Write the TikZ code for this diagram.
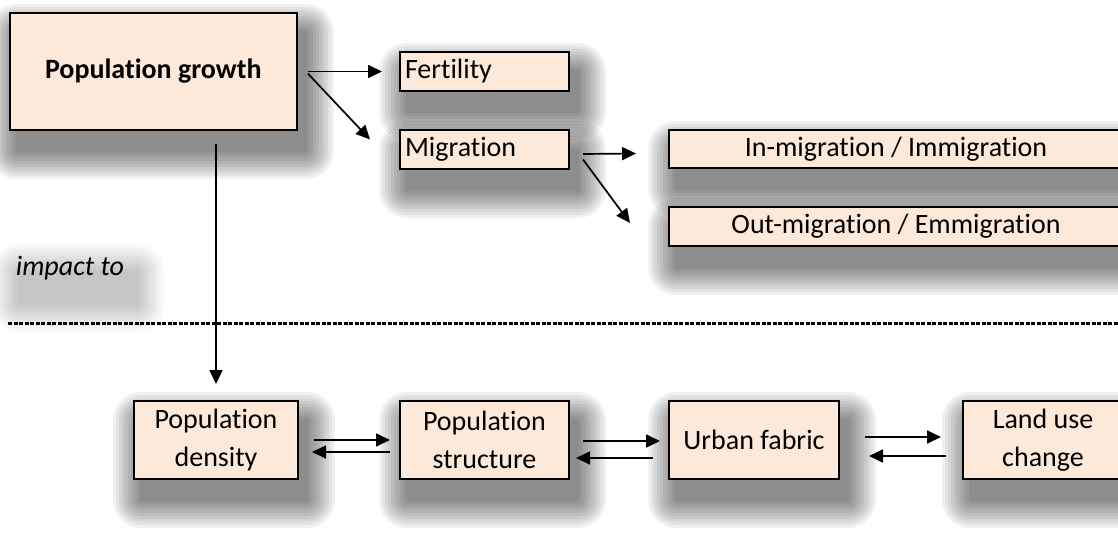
\documentclass[tikz,border=0pt]{standalone}
\usepackage{fontspec}
\setmainfont{Carlito}[Ligatures=NoCommon]
\usetikzlibrary{positioning}
\usetikzlibrary{arrows.meta}
\usetikzlibrary{backgrounds}
\definecolor{peach}{HTML}{FDE9D9}
\newcommand{\boxshadow}[2][0.055]% opacity, node
{\foreach \r in {28,25,...,1}
	\fill[black, opacity=#1, rounded corners=\r pt] ([shift={(8pt-\r pt,-20pt-\r pt)}]#2.south west) rectangle ([shift={(8pt+\r pt,-20pt+\r pt)}]#2.north east);
}
\tikzset{
	box/.style={draw=black, line width=2pt, fill=peach, inner sep=5pt, align=center},
	arr/.style={-{Triangle[length=14pt,width=13pt]}, line width=1.7pt},
	sepline/.style={line width=3pt, dash pattern=on 4pt off 1.5pt},
}
\begin{document}
\fontsize{28}{38}\selectfont
\begin{tikzpicture}[x=1pt,y=-1pt]
	\path[use as bounding box] (0,0) rectangle (1118,551);
	\node[box, minimum width=287pt, minimum height=117pt, font=\bfseries] (growth) at (153.3,71.5) {Population growth};
	\node[box, align=left, text width=159pt, minimum height=39pt] (fert) at (484.5,71.5) {Fertility};
	\node[box, align=left, text width=159pt, minimum height=39pt] (migr) at (484.5,149.5) {Migration};
	\node[box, minimum width=454pt, minimum height=38pt] (inmig) at (896,149) {In-migration / Immigration};
	\node[box, minimum width=454pt, minimum height=39pt] (outmig) at (896,226.5) {Out-migration / Emmigration};
	\node[font=\itshape, inner sep=4pt] (impact) at (70,268) {impact to};
	% separator
	\coordinate (sepL) at (8,323);
	\coordinate (sepR) at (1125,323);
	\draw[sepline] (sepL) -- (sepR);
	% bottom row
	\node[box, minimum width=164pt, minimum height=78pt] (dens) at (216,440) {Population\\density};
	\node[box, minimum width=169pt, minimum height=78pt] (struc) at (484.5,440) {Population\\structure};
	\node[box, minimum width=170pt, minimum height=78pt] (urban) at (754,440) {Urban fabric};
	\node[box, minimum width=160pt, minimum height=78pt] (land) at (1043,440) {Land use\\change};
	% shadows
	\begin{scope}[on background layer]
		\fill[white] (0,0) rectangle (1118,551);
		\boxshadow{growth}
		\boxshadow{fert}
		\boxshadow{migr}
		\boxshadow{inmig}
		\boxshadow{outmig}
		\boxshadow[0.022]{impact}
		\boxshadow{dens}
		\boxshadow{struc}
		\boxshadow{urban}
		\boxshadow{land}
	\end{scope}
	% arrows
	\draw[arr] ([xshift=10pt]growth.east) -- ([xshift=-17pt]fert.west);
	\draw[arr] ([xshift=10pt,yshift=-2pt]growth.east) -- ([xshift=-29pt,yshift=10pt]migr.west);
	\draw[arr] ([shift={(13pt,-4.5pt)}]migr.east) -- ([shift={(-32pt,-4.5pt)}]inmig.west);
	\draw[arr] ([shift={(13pt,-10pt)}]migr.east) -- ([shift={(-38pt,3.5pt)}]outmig.west);
	\draw[arr, shorten <=13pt, shorten >=16pt] (dens.north |- growth.south) -- (dens.north);
	\draw[arr] ([xshift=15pt]dens.east) -- ([xshift=-9pt]struc.west);
	\draw[arr] ([shift={(-9pt,-12pt)}]struc.west) -- ([shift={(13pt,-12pt)}]dens.east);
	\draw[arr] ([shift={(13pt,-1pt)}]struc.east) -- ([shift={(-8pt,-1pt)}]urban.west);
	\draw[arr] ([shift={(-15pt,-18pt)}]urban.west) -- ([shift={(6pt,-18pt)}]struc.east);
	\draw[arr] ([shift={(25pt,3pt)}]urban.east) -- ([shift={(-21pt,3pt)}]land.west);
	\draw[arr] ([shift={(-16pt,-16pt)}]land.west) -- ([shift={(29pt,-16pt)}]urban.east);
\end{tikzpicture}
\end{document}
